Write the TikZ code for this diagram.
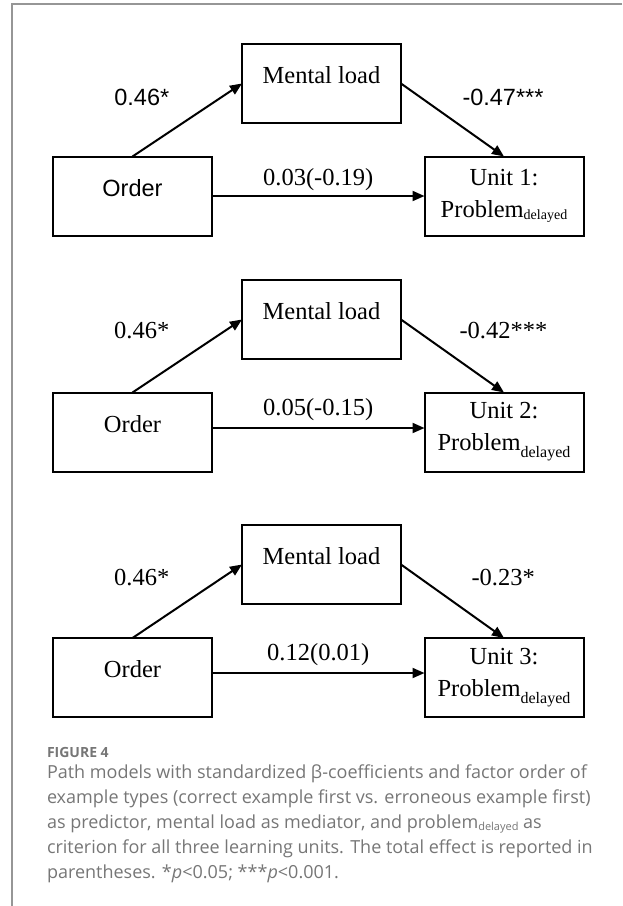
\documentclass[tikz,border=0pt]{standalone}
\usepackage{fontspec}
\setmainfont{Liberation Serif}
\newfontfamily\arialfont{Liberation Sans}
\newfontfamily\capfont{Open Sans}
\usetikzlibrary{arrows.meta,positioning}

\definecolor{capgray}{RGB}{118,118,118}
\definecolor{framegray}{RGB}{150,150,150}

\newcommand{\diagfont}{\fontsize{24.5}{32}\selectfont}
\newcommand{\pathsans}{\arialfont\fontsize{23.5}{28}\selectfont}
\newcommand{\dlyA}{\raisebox{-2pt}{\fontsize{14}{14}\selectfont delayed}}
\newcommand{\dlyB}{\raisebox{-7pt}{\fontsize{16}{16}\selectfont delayed}}
\newcommand{\dlyC}{\raisebox{-2pt}{\fontsize{11}{11}\selectfont delayed}}

\begin{document}
\begin{tikzpicture}[x=1pt,y=-1pt,inner sep=0pt,outer sep=0pt,line width=2pt,
>={Triangle[length=12pt,width=10pt]},font=\diagfont,
pathbox/.style={draw,rectangle,minimum width=159pt,minimum height=79pt,text height=18pt,text depth=18pt},
unitbox/.style={draw,rectangle,minimum width=159pt,minimum height=79pt,align=center}]

\useasboundingbox (0,0) rectangle (622,906);
\draw[framegray,line width=1.5pt] (622,4) -- (12,4) -- (12,906);

% unit 1
\draw (132.5,196) node[pathbox,font=\pathsans] (ordA) {Order};
\draw (321.5,83.5) node[pathbox] (mlA) {Mental load};
\draw (504,196) node[unitbox] (unitA) {Unit 1:\\Problem\dlyA};

\draw[->] (ordA.north) -- node[above left=14pt and 18pt,font=\pathsans] (wA1) {0.46*} (mlA.west);
\draw[->] (mlA.east) -- node[above right=14pt and 10pt,font=\pathsans] (wA2) {-0.47***} (unitA.north);
\draw[->] (ordA.east) -- node[above=5.3pt] (wA3) {0.03(-0.19)} (unitA.west);

% unit 2
\draw (132.5,432) node[pathbox] (ordB) {Order};
\draw (321.5,319.5) node[pathbox] (mlB) {Mental load};
\draw (504,432) node[unitbox] (unitB) {Unit 2:\\Problem\dlyB};

\draw[->] (ordB.north) -- node[above left=17.5pt and 18pt] (wB1) {0.46*} (mlB.west);
\draw[->] (mlB.east) -- node[above right=17.5pt and 7pt] (wB2) {-0.42***} (unitB.north);
\draw[->] ([yshift=4pt]ordB.east) -- node[above=7.3pt] (wB3) {0.05(-0.15)} ([yshift=4pt]unitB.west);

% unit 3
\draw (132.5,677.5) node[pathbox] (ordC) {Order};
\draw (321.5,564.5) node[pathbox] (mlC) {Mental load};
\draw (504,677.5) node[unitbox] (unitC) {Unit 3:\\Problem\dlyB};

\draw[->] (ordC.north) -- node[above left=15.5pt and 18pt] (wC1) {0.46*} (mlC.west);
\draw[->] (mlC.east) -- node[above right=15.5pt and 19pt] (wC2) {-0.23*} (unitC.north);
\draw[->] ([yshift=4.5pt]ordC.east) -- node[above=7.3pt] (wC3) {0.12(0.01)} ([yshift=4.5pt]unitC.west);

% caption
\draw (47,757) node[anchor=base west,text=capgray,font=\capfont\bfseries\fontsize{14}{17}\selectfont] (figno) {FIGURE 4};
\draw (47,765) node[anchor=north west,align=left,text=capgray,font=\capfont\fontsize{18}{25}\selectfont] (capt)
{Path models with standardized β-coefficients and factor order of\\
example types (correct example first vs. erroneous example first)\\
as predictor, mental load as mediator, and problem\dlyC{} as\\
criterion for all three learning units. The total effect is reported in\\
parentheses. *\textit{p}<0.05; ***\textit{p}<0.001.};

\end{tikzpicture}
\end{document}
